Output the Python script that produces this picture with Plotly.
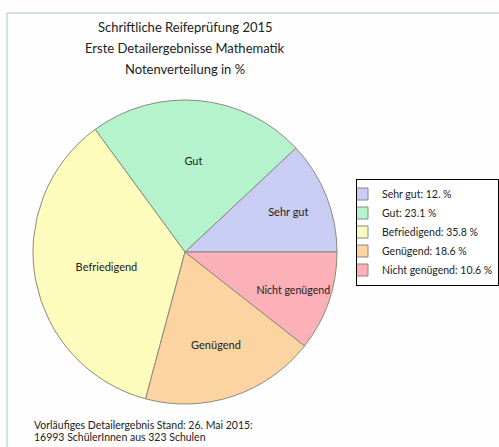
import plotly.graph_objects as go

W, H = 499, 447

slice_names = ["Sehr gut", "Gut", "Befriedigend", "Genügend", "Nicht genügend"]
legend_labels = ["Sehr gut: 12. %", "Gut: 23.1 %", "Befriedigend: 35.8 %",
                 "Genügend: 18.6 %", "Nicht genügend: 10.6 %"]
values = [12.0, 23.1, 35.8, 18.6, 10.6]
colors = ["#c9cdf3", "#b5f3cd", "#fdfcbc", "#fbd4a2", "#fcb0b7"]

title_lines = ["Schriftliche Reifeprüfung 2015",
               "Erste Detailergebnisse Mathematik",
               "Notenverteilung in %"]
footnote_lines = ["Vorläufiges Detailergebnis Stand: 26. Mai 2015:",
                  "16993 SchülerInnen aus 323 Schulen"]

FONT = "Lato"

def px(x):
    return x / W

def py(y):
    return 1 - y / H

# first slice should start at 3 o'clock and run counterclockwise
first_angle = values[0] / sum(values) * 360
rot = 90 - first_angle

fig = go.Figure(go.Pie(
    labels=legend_labels,
    values=values,
    text=slice_names,
    textinfo="text",
    textposition="inside",
    insidetextorientation="horizontal",
    sort=False,
    direction="counterclockwise",
    rotation=rot,
    marker=dict(colors=colors, line=dict(color="#8a8a80", width=1)),
    textfont=dict(family=FONT, size=11, color="#222222"),
    hoverinfo="label",
    domain=dict(x=[px(33), px(337)], y=[py(404), py(100)]),
))

annotations = []
for i, t in enumerate(title_lines):
    annotations.append(dict(text=t, x=px(185), y=py(27 + i * 21), xref="paper", yref="paper",
                            showarrow=False, xanchor="center", yanchor="middle",
                            font=dict(family=FONT, size=13, color="#222222")))
for i, t in enumerate(footnote_lines):
    annotations.append(dict(text=t, x=px(32), y=py(425 + i * 12), xref="paper", yref="paper",
                            showarrow=False, xanchor="left", yanchor="middle",
                            font=dict(family=FONT, size=10.5, color="#222222")))

shapes = [
    dict(type="line", xref="paper", yref="paper", x0=px(7), x1=1, y0=py(13), y1=py(13),
         line=dict(color="#c6d6da", width=1.5)),
    dict(type="line", xref="paper", yref="paper", x0=px(7), x1=px(7), y0=py(13), y1=0,
         line=dict(color="#c6d6da", width=1.5)),
]

fig.update_layout(
    width=W, height=H,
    margin=dict(l=0, r=0, t=0, b=0),
    paper_bgcolor="#fdfefd",
    plot_bgcolor="#fdfefd",
    showlegend=True,
    legend=dict(x=1, y=py(232), xanchor="right", yanchor="middle",
                bordercolor="#000000", borderwidth=1, bgcolor="#ffffff",
                font=dict(family=FONT, size=10.5, color="#222222"),
                itemwidth=30, indentation=-15),
    annotations=annotations,
    shapes=shapes,
)

fig.write_html("out.html")
